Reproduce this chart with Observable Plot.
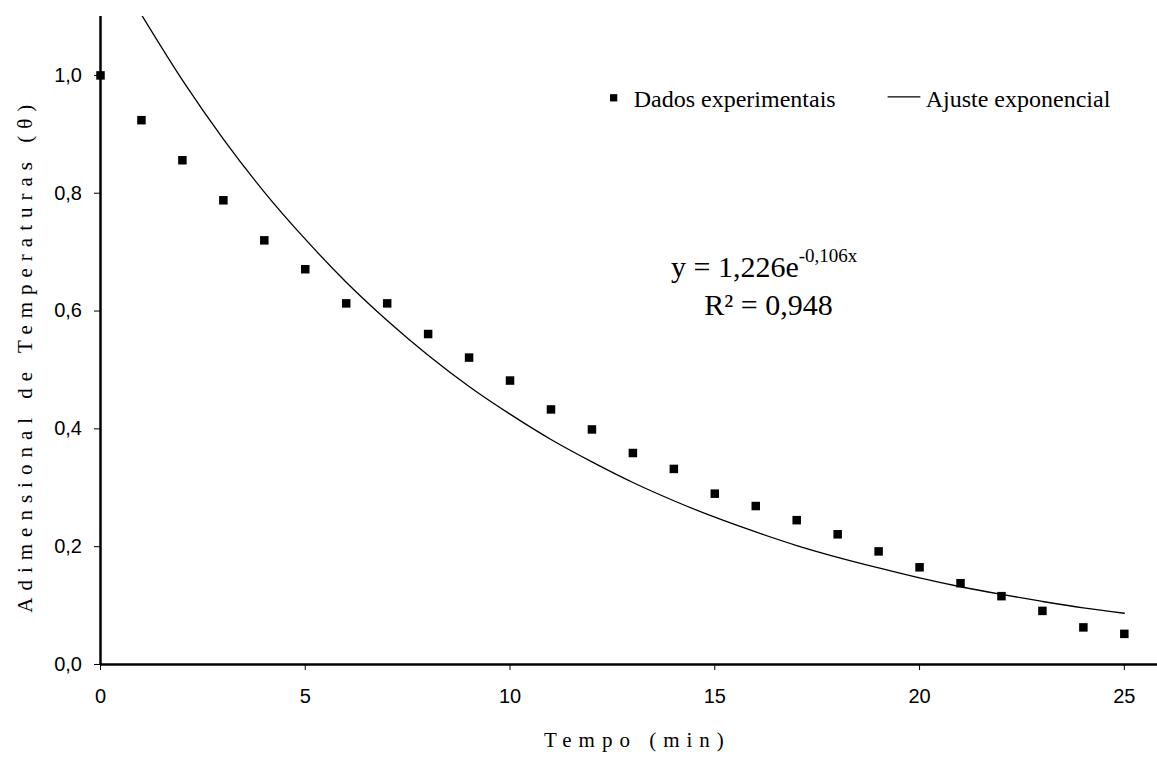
<!DOCTYPE html>
<html>
<head>
<meta charset="utf-8">
<script src="https://cdn.jsdelivr.net/npm/d3@7"></script>
<script src="https://cdn.jsdelivr.net/npm/@observablehq/plot@0.6"></script>
<style>
  html, body { margin: 0; padding: 0; background: #fff; }
</style>
</head>
<body>
<div id="chart"></div>
<script>
// ---- data ----
const tempo = [0, 1, 2, 3, 4, 5, 6, 7, 8, 9, 10, 11, 12, 13, 14, 15, 16, 17, 18, 19, 20, 21, 22, 23, 24, 25];
const theta = [1.000, 0.924, 0.856, 0.788, 0.720, 0.671, 0.613, 0.613, 0.561, 0.521, 0.482, 0.433, 0.399,
               0.359, 0.332, 0.290, 0.269, 0.245, 0.221, 0.192, 0.165, 0.138, 0.116, 0.091, 0.063, 0.052];
// exponential trendline, values
const ajusteTempo = [1, 2, 3, 4, 5, 6, 7, 8, 9, 10, 11, 12, 13, 14, 15, 16, 17, 18, 19, 20, 21, 22, 23, 24, 25];
const ajusteTheta = [1.103, 0.992, 0.892, 0.802, 0.722, 0.649, 0.584, 0.525, 0.472, 0.425, 0.382, 0.344,
                     0.309, 0.278, 0.250, 0.225, 0.202, 0.182, 0.164, 0.147, 0.132, 0.119, 0.107, 0.096, 0.087];
const xTicks = [0, 5, 10, 15, 20, 25];
const yTicks = [0, 0.2, 0.4, 0.6, 0.8, 1.0];
const legendLabels = ["Dados experimentais", "Ajuste exponencial"];
const equationMain = "y = 1,226e";
const equationExp = "-0,106x";
const r2Label = "R² = 0,948";
const xLabel = "Tempo (min)";
const yLabel = "Adimensional de Temperaturas (θ)";

// ---- tables built from the arrays ----
const dados = tempo.map((t, i) => ({t, v: theta[i]}));
const ajuste = ajusteTempo.map((t, i) => ({t, v: ajusteTheta[i]}));

const serif = "'Liberation Serif', 'Times New Roman', serif";
const sans = "'Liberation Sans', Arial, sans-serif";

const chart = Plot.plot({
  width: 1157,
  height: 758,
  marginTop: 16,
  marginBottom: 94,
  marginLeft: 100,
  marginRight: 0,
  style: {fontFamily: sans, fontSize: "20px", background: "#fff", color: "#000", overflow: "visible"},
  x: {domain: [0, 25.81]},
  y: {domain: [0, 1.1]},
  marks: [
    Plot.axisX({ticks: xTicks, tickSize: 6, tickPadding: 18, tickFormat: d => String(d), label: null, fontSize: 20}),
    Plot.axisY({ticks: yTicks, tickSize: 6, tickPadding: 12.5, tickFormat: d => d.toFixed(1).replace(".", ","), label: null, fontSize: 20}),
    Plot.ruleX([0], {stroke: "black", strokeWidth: 2.5}),
    Plot.ruleY([0], {stroke: "black", strokeWidth: 2.5}),
    Plot.line(ajuste, {x: "t", y: "v", curve: "monotone-x", stroke: "black", strokeWidth: 1.3, clip: true}),
    Plot.dot(dados, {x: "t", y: "v", symbol: "square", r: 4.8, fill: "black", stroke: "none"}),
    // legend
    Plot.dot([{t: 12.53, v: 0.962}], {x: "t", y: "v", symbol: "square", r: 4.1, fill: "black", stroke: "none"}),
    Plot.text([{t: 13.02, v: 0.9465, s: legendLabels[0]}], {x: "t", y: "v", text: "s", textAnchor: "start", lineAnchor: "bottom", fontFamily: serif, fontSize: 24}),
    Plot.link([{t1: 19.22, t2: 20.02, v: 0.9635}], {x1: "t1", x2: "t2", y1: "v", y2: "v", stroke: "black", strokeWidth: 1.3}),
    Plot.text([{t: 20.15, v: 0.9465, s: legendLabels[1]}], {x: "t", y: "v", text: "s", textAnchor: "start", lineAnchor: "bottom", fontFamily: serif, fontSize: 24}),
    // equation
    Plot.text([{t: 17.05, v: 0.6576, s: equationMain}], {x: "t", y: "v", text: "s", textAnchor: "end", lineAnchor: "bottom", fontFamily: serif, fontSize: 30}),
    Plot.text([{t: 17.05, v: 0.683, s: equationExp}], {x: "t", y: "v", text: "s", textAnchor: "start", lineAnchor: "bottom", fontFamily: serif, fontSize: 19}),
    Plot.text([{t: 16.31, v: 0.593, s: r2Label}], {x: "t", y: "v", text: "s", textAnchor: "middle", lineAnchor: "bottom", fontFamily: serif, fontSize: 30}),
    // axis titles
    Plot.text([{t: 13.11, s: xLabel}], {x: "t", text: "s", frameAnchor: "bottom", dy: 82, textAnchor: "middle", lineAnchor: "bottom", fontFamily: serif, fontSize: 21}),
    Plot.text([{v: 0.525, s: yLabel}], {y: "v", text: "s", frameAnchor: "left", dx: -75, rotate: -90, textAnchor: "middle", lineAnchor: "middle", fontFamily: serif, fontSize: 21})
  ]
});

d3.select(chart).selectAll("text")
  .filter(function () { return this.textContent === xLabel || this.textContent === yLabel; })
  .style("letter-spacing", "7px");

document.getElementById("chart").appendChild(chart);
</script>
</body>
</html>
